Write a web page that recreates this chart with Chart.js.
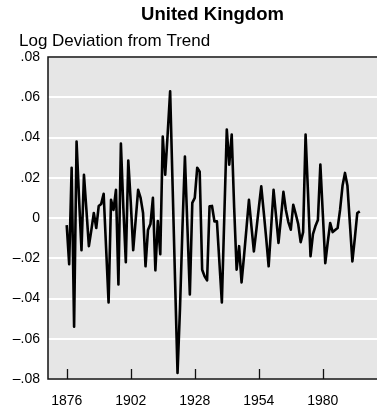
<!DOCTYPE html>
<html>
<head>
<meta charset="utf-8">
<title>United Kingdom</title>
<script src="https://cdn.jsdelivr.net/npm/chart.js@4"></script>
<style>
  html, body { margin: 0; padding: 0; background: #fff; }
  #wrap { width: 377px; height: 411px; }
</style>
</head>
<body>
<div id="wrap"><canvas id="ukChart" width="377" height="411"></canvas></div>
<script>
// annual log deviation of output from trend
const years = [
  1876, 1877, 1878, 1879, 1880, 1881, 1882, 1883, 1884, 1885,
  1886, 1887, 1888, 1889, 1890, 1891, 1892, 1893, 1894, 1895,
  1896, 1897, 1898, 1899, 1900, 1901, 1902, 1903, 1904, 1905,
  1906, 1907, 1908, 1909, 1910, 1911, 1912, 1913, 1914, 1915,
  1916, 1917, 1918, 1919, 1920, 1921, 1922, 1923, 1924, 1925,
  1926, 1927, 1928, 1929, 1930, 1931, 1932, 1933, 1934, 1935,
  1936, 1937, 1938, 1939, 1940, 1941, 1942, 1943, 1944, 1945,
  1946, 1947, 1948, 1949, 1950, 1951, 1952, 1953, 1954, 1955,
  1956, 1957, 1958, 1959, 1960, 1961, 1962, 1963, 1964, 1965,
  1966, 1967, 1968, 1969, 1970, 1971, 1972, 1973, 1974, 1975,
  1976, 1977, 1978, 1979, 1980, 1981, 1982, 1983, 1984, 1985,
  1986, 1987, 1988, 1989, 1990, 1991, 1992, 1993, 1994, 1995
];
const deviation = [
  -0.0035, -0.023, 0.025, -0.054, 0.038, 0.010, -0.016, 0.0215, 0.004, -0.014,
  -0.006, 0.0025, -0.005, 0.006, 0.007, 0.012, -0.015, -0.042, 0.009, 0.004,
  0.014, -0.033, 0.037, 0.005, -0.022, 0.0285, 0.008, -0.016, -0.001, 0.014,
  0.010, 0.0025, -0.024, -0.006, -0.003, 0.010, -0.026, -0.0015, -0.018, 0.0405,
  0.0215, 0.042, 0.063, 0.016, -0.031, -0.077, -0.045, -0.005, 0.0305, -0.004,
  -0.038, 0.0075, 0.010, 0.025, 0.023, -0.0257, -0.029, -0.031, 0.0058, 0.006,
  -0.0017, -0.0017, -0.022, -0.042, 0.001, 0.044, 0.0265, 0.0415, 0.005, -0.0257,
  -0.014, -0.032, -0.019, -0.005, 0.009, -0.004, -0.0166, -0.006, 0.005, 0.0157,
  0.003, -0.010, -0.024, -0.005, 0.014, 0.001, -0.0124, 0.000, 0.013, 0.004,
  -0.002, -0.0058, 0.0066, 0.002, -0.003, -0.012, -0.007, 0.0415, 0.012, -0.019,
  -0.008, -0.004, -0.001, 0.0265, 0.002, -0.0224, -0.012, -0.0025, -0.007, -0.006,
  -0.005, 0.004, 0.016, 0.0224, 0.016, -0.003, -0.0216, -0.010, 0.0025, 0.0033
];
const yearTicks = [1876, 1902, 1928, 1954, 1980];

const titleText = 'United Kingdom';
const unitText = 'Log Deviation from Trend';

// grey panel, frame, inward ticks and the header text
const panel = {
  id: 'panel',
  beforeDraw(chart) {
    const { ctx, chartArea: a } = chart;
    ctx.save();
    ctx.fillStyle = '#e6e6e6';
    ctx.fillRect(a.left, a.top, a.right - a.left, a.bottom - a.top);
    ctx.restore();
  },
  afterDraw(chart) {
    const { ctx, chartArea: a } = chart;
    const x = chart.scales.x;
    ctx.save();
    ctx.strokeStyle = '#111';
    ctx.lineWidth = 1.5;
    ctx.beginPath();
    ctx.moveTo(a.right, a.top);
    ctx.lineTo(a.left, a.top);
    ctx.lineTo(a.left, a.bottom);
    ctx.lineTo(a.right, a.bottom);
    ctx.stroke();

    ctx.lineWidth = 1.3;
    ctx.beginPath();
    yearTicks.forEach(t => {
      const px = Math.round(x.getPixelForValue(t)) + 0.5;
      ctx.moveTo(px, a.bottom);
      ctx.lineTo(px, a.bottom - 10);
    });
    ctx.stroke();

    ctx.fillStyle = '#000';
    ctx.textBaseline = 'middle';
    ctx.textAlign = 'center';
    ctx.font = 'bold 18.5px "Liberation Sans", Arial, sans-serif';
    ctx.fillText(titleText, (a.left + a.right) / 2, 15);
    ctx.textAlign = 'left';
    ctx.font = '17px "Liberation Sans", Arial, sans-serif';
    ctx.fillText(unitText, 19, 41);
    ctx.restore();
  }
};

const fmtY = v => {
  if (Math.abs(v) < 1e-9) return '0';
  const s = Math.abs(v).toFixed(2).replace(/^0/, '');
  return v < 0 ? '\u2013' + s : s;
};

new Chart(document.getElementById('ukChart'), {
  type: 'line',
  data: {
    datasets: [{
      data: years.map((yr, i) => ({ x: yr, y: deviation[i] })),
      borderColor: '#000',
      borderWidth: 2.6,
      borderJoinStyle: 'round',
      pointRadius: 0,
      tension: 0,
      fill: false
    }]
  },
  options: {
    responsive: false,
    animation: false,
    layout: { padding: { top: 57, right: 0, left: 0, bottom: 0 } },
    plugins: {
      legend: { display: false },
      tooltip: { enabled: false }
    },
    scales: {
      x: {
        type: 'linear',
        min: 1868.4,
        max: 2002,
        afterBuildTicks: s => { s.ticks = yearTicks.map(v => ({ value: v })); },
        afterFit: s => { s.height = 32; },
        grid: { display: false },
        border: { display: false },
        ticks: {
          padding: 6,
          color: '#000',
          maxRotation: 0,
          font: { family: '"Liberation Sans", Arial, sans-serif', size: 14 },
          callback: v => String(v)
        }
      },
      y: {
        min: -0.08,
        max: 0.08,
        afterFit: s => { s.width = 48; },
        grid: { color: '#fff', lineWidth: 2, drawTicks: false },
        border: { display: false },
        ticks: {
          stepSize: 0.02,
          padding: 8,
          color: '#000',
          font: { family: '"Liberation Sans", Arial, sans-serif', size: 14 },
          callback: fmtY
        }
      }
    }
  },
  plugins: [panel]
});
</script>
</body>
</html>
